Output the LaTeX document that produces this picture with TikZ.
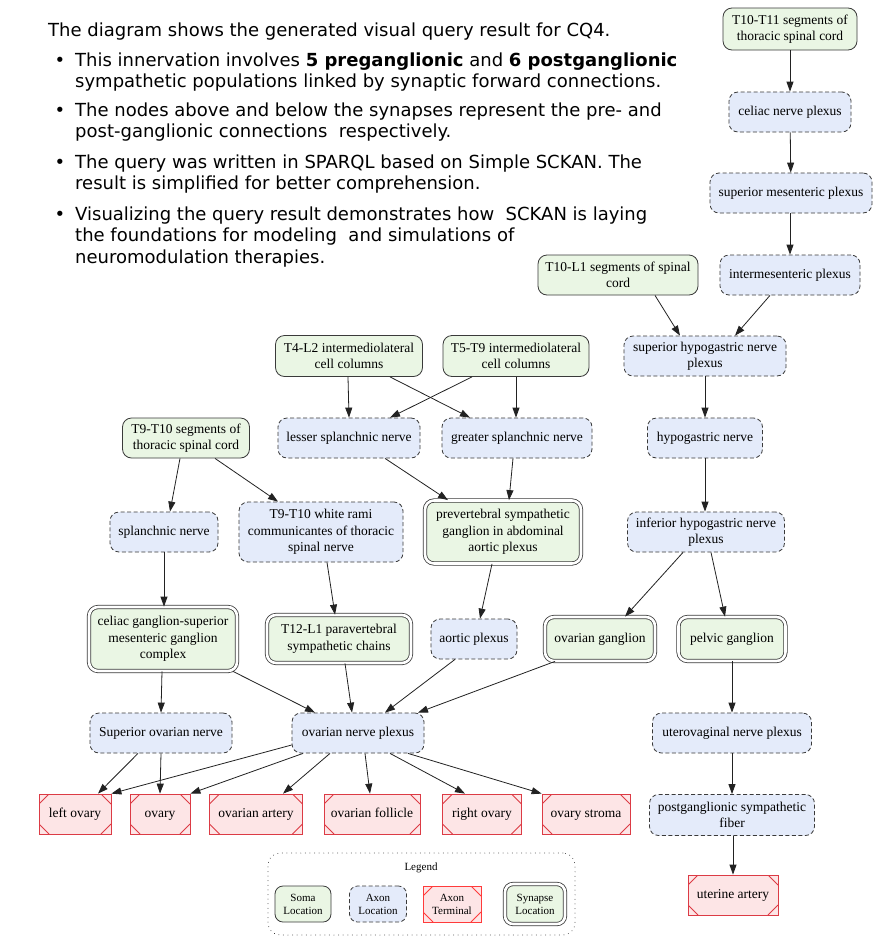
\documentclass[tikz,border=0pt]{standalone}
\usepackage{fontspec}
\setmainfont{Liberation Serif}
\newfontfamily\txtfont{DejaVu Sans}
\usetikzlibrary{arrows.meta}
\definecolor{somafill}{HTML}{EAF6E4}
\definecolor{axonfill}{HTML}{E4EBFA}
\definecolor{termfill}{HTML}{FDE5E6}
\definecolor{termline}{HTML}{DC3B45}
\definecolor{termbright}{HTML}{FF3B3B}
\definecolor{edgecol}{HTML}{222222}
\definecolor{boxline}{HTML}{3A3A3A}
\newcommand{\gfont}{\fontsize{13.5}{16.5}\selectfont}
\newcommand{\lfont}{\fontsize{11}{13}\selectfont}
\newcommand{\tfont}{\txtfont\fontsize{18}{21}\selectfont}
\tikzset{
  sz/.style 2 args={minimum width=#1pt, minimum height=#2pt},
  one/.style={text height=9.6pt, text depth=3.4pt},
  gbase/.style={rounded corners=9pt, font=\gfont, align=center, inner sep=0pt, line width=0.8pt},
  soma/.style={gbase, draw=boxline, fill=somafill},
  axon/.style={gbase, draw=boxline, dash pattern=on 4pt off 2.5pt, fill=axonfill},
  syn/.style={gbase, draw=boxline, fill=somafill, double=white, double distance=2.6pt},
  term/.style={draw=#1, fill=termfill, line width=0.8pt, font=\gfont, align=center, inner sep=0pt,
    path picture={
      \draw[#1, line width=0.8pt]
        ([yshift=-10pt]path picture bounding box.north west) -- ([xshift=10pt]path picture bounding box.north west)
        ([yshift=-10pt]path picture bounding box.north east) -- ([xshift=-10pt]path picture bounding box.north east)
        ([yshift=10pt]path picture bounding box.south west) -- ([xshift=10pt]path picture bounding box.south west)
        ([yshift=10pt]path picture bounding box.south east) -- ([xshift=-10pt]path picture bounding box.south east);
    }},
  term/.default=termline,
  arr/.style={-{Triangle[length=10pt,width=7pt]}, draw=edgecol, line width=0.8pt},
  txt/.style={font=\tfont, inner sep=0pt, anchor=base west},
  bul/.style={font=\tfont, inner sep=0pt, anchor=base},
}
\begin{document}
\begin{tikzpicture}[x=1pt,y=-1pt]
\useasboundingbox[fill=white] (0,0) rectangle (883,945);

% --- explanatory text
\node[txt] (tl0) at (48,36) {The diagram shows the generated visual query result for CQ4.};
\node[bul] (b1) at (60,66) {•};
\node[txt] (tl1) at (75,66) {This innervation involves \textbf{5 preganglionic} and \textbf{6 postganglionic}};
\node[txt] (tl2) at (75,87) {sympathetic populations linked by synaptic forward connections.};
\node[bul] (b2) at (60,116) {•};
\node[txt] (tl3) at (75,116) {The nodes above and below the synapses represent the pre- and};
\node[txt] (tl4) at (75,137) {post-ganglionic connections \ respectively.};
\node[bul] (b3) at (60,168) {•};
\node[txt] (tl5) at (75,168) {The query was written in SPARQL based on Simple SCKAN. The};
\node[txt] (tl6) at (75,189) {result is simplified for better comprehension.};
\node[bul] (b4) at (60,220) {•};
\node[txt] (tl7) at (75,220) {Visualizing the query result demonstrates how \ SCKAN is laying};
\node[txt] (tl8) at (75,241) {the foundations for modeling \ and simulations of};
\node[txt] (tl9) at (75,263) {neuromodulation therapies.};

% --- nodes
\node[soma, sz={134}{42}] (t1011) at (790,29) {T10-T11 segments of\\thoracic spinal cord};
\node[axon, one, sz={122}{40}] (cnp) at (790,112) {celiac nerve plexus};
\node[axon, one, sz={162}{40}] (smp) at (791,193) {superior mesenteric plexus};
\node[axon, one, sz={140}{40}] (imp) at (790,275) {intermesenteric plexus};
\node[soma, sz={160}{40}] (t10l1) at (618,275) {T10-L1 segments of spinal\\cord};
\node[axon, sz={162}{40}] (shp) at (705,356) {superior hypogastric nerve\\plexus};
\node[soma, sz={147}{41}] (t4l2) at (349,356) {T4-L2 intermediolateral\\cell columns};
\node[soma, sz={146}{41}] (t5t9) at (516,356) {T5-T9 intermediolateral\\cell columns};
\node[axon, one, sz={142}{40}] (lsn) at (349,438) {lesser splanchnic nerve};
\node[axon, one, sz={150}{40}] (gsn) at (517,438) {greater splanchnic nerve};
\node[axon, one, sz={115}{40}] (hn) at (705,438) {hypogastric nerve};
\node[soma, sz={127}{40}] (t910) at (186,438) {T9-T10 segments of\\thoracic spinal cord};
\node[axon, one, sz={108}{40}] (spl) at (164,532) {splanchnic nerve};
\node[axon, sz={164}{60}] (wr) at (321,532) {T9-T10 white rami\\communicantes of thoracic\\spinal nerve};
\node[syn, sz={156}{63}] (prev) at (503,532) {prevertebral sympathetic\\ganglion in abdominal\\aortic plexus};
\node[axon, sz={157}{40}] (ihp) at (706,532) {inferior hypogastric nerve\\plexus};
\node[syn, sz={148}{64}] (cgc) at (163,639) {celiac ganglion-superior\\mesenteric ganglion\\complex};
\node[syn, sz={144}{48}] (t12) at (339,639) {T12-L1 paravertebral\\sympathetic chains};
\node[axon, one, sz={86}{40}] (aor) at (474,639) {aortic plexus};
\node[syn, one, sz={110}{44}] (ovg) at (600,639) {ovarian ganglion};
\node[syn, one, sz={107}{44}] (pg) at (732,639) {pelvic ganglion};
\node[axon, one, sz={142}{40}] (son) at (161,733) {Superior ovarian nerve};
\node[axon, one, sz={132}{40}] (onp) at (358,733) {ovarian nerve plexus};
\node[axon, one, sz={159}{40}] (uvp) at (732,733) {uterovaginal nerve plexus};
\node[term, one, sz={72}{40}] (lov) at (75,814) {left ovary};
\node[term, one, sz={60}{40}] (ova) at (160,814) {ovary};
\node[term, one, sz={93}{40}] (oart) at (256,814) {ovarian artery};
\node[term, one, sz={96}{40}] (ofol) at (372,814) {ovarian follicle};
\node[term, one, sz={79}{40}] (rov) at (482,814) {right ovary};
\node[term, one, sz={88}{40}] (ost) at (586,814) {ovary stroma};
\node[axon, sz={165}{41}] (psf) at (732,815) {postganglionic sympathetic\\fiber};
\node[term, one, sz={90}{40}] (ua) at (733,895) {uterine artery};

% --- edges
\draw[arr] (t1011) -- (cnp);
\draw[arr] (cnp) -- (smp);
\draw[arr] ([xshift=-1pt]smp.south) -- (imp.north);
\draw[arr] ([xshift=37pt]t10l1.south) -- ([xshift=-25pt]shp.north);
\draw[arr] ([xshift=-20pt]imp.south) -- ([xshift=30pt]shp.north);
\draw[arr] (shp) -- (hn);
\draw[arr] (hn) -- ([xshift=-1pt]ihp.north);
\draw[arr] ([xshift=-23pt]ihp.south) -- ([xshift=25pt]ovg.north);
\draw[arr] ([xshift=5pt]ihp.south) -- ([xshift=-7pt]pg.north);
\draw[arr] (pg) -- (uvp);
\draw[arr] (uvp) -- (psf);
\draw[arr] ([xshift=1pt]psf.south) -- (ua.north);
\draw[arr] ([xshift=-1pt]t4l2.south) -- (lsn.north);
\draw[arr] ([xshift=41pt]t4l2.south) -- ([xshift=-47pt]gsn.north);
\draw[arr] ([xshift=-44pt]t5t9.south) -- ([xshift=41pt]lsn.north);
\draw[arr] (t5t9.south) -- ([xshift=-1pt]gsn.north);
\draw[arr] ([xshift=36pt]lsn.south) -- ([xshift=-55pt]prev.north);
\draw[arr] ([xshift=-4pt]gsn.south) -- ([xshift=6pt]prev.north);
\draw[arr] ([xshift=-6pt]t910.south) -- ([xshift=6pt]spl.north);
\draw[arr] ([xshift=29pt]t910.south) -- ([xshift=-43pt]wr.north);
\draw[arr] (spl) -- ([xshift=1pt]cgc.north);
\draw[arr] ([xshift=6pt]wr.south) -- ([xshift=-4pt]t12.north);
\draw[arr] ([xshift=-11pt]prev.south) -- ([xshift=6pt]aor.north);
\draw[arr] ([xshift=-1pt]cgc.south) -- (son.north);
\draw[arr] ([xshift=70pt]cgc.south) -- ([xshift=-43pt]onp.north);
\draw[arr] ([xshift=6pt]t12.south) -- ([xshift=-6pt]onp.north);
\draw[arr] ([xshift=-19pt]aor.south) -- ([xshift=27pt]onp.north);
\draw[arr] ([xshift=-45pt]ovg.south) -- ([xshift=60pt]onp.north);
\draw[arr] ([xshift=-23pt]son.south) -- ([xshift=23pt]lov.north);
\draw[arr] (son.south) -- (ova.north);
\draw[arr] ([yshift=-12pt]onp.west) -- (lov.north east);
\draw[arr] ([xshift=-55pt]onp.south) -- (ova.north east);
\draw[arr] ([xshift=-28pt]onp.south) -- ([xshift=27pt]oart.north);
\draw[arr] ([xshift=7pt]onp.south) -- ([xshift=-2pt]ofol.north);
\draw[arr] ([xshift=32pt]onp.south) -- ([xshift=-17pt]rov.north);
\draw[arr] ([xshift=50pt]onp.south) -- (ost.north west);

% --- legend
\node[draw=boxline, line width=0.9pt, dash pattern=on 0.1pt off 4.5pt, line cap=round, rounded corners=12pt, sz={307}{82}] (leg) at (421.5,894) {};
\node[font=\lfont, inner sep=0pt] (legt) at (421,868) {Legend};
\node[soma, font=\lfont, rounded corners=8pt, sz={56}{36}] (ls) at (303,904) {Soma\\Location};
\node[axon, font=\lfont, rounded corners=8pt, sz={57}{36}] (la) at (378,904) {Axon\\Location};
\node[term=termbright, font=\lfont, sz={58}{36}] (lt) at (452,904) {Axon\\Terminal};
\node[syn, font=\lfont, rounded corners=8pt, sz={60}{40}] (lsy) at (535,904) {Synapse\\Location};
\end{tikzpicture}
\end{document}
